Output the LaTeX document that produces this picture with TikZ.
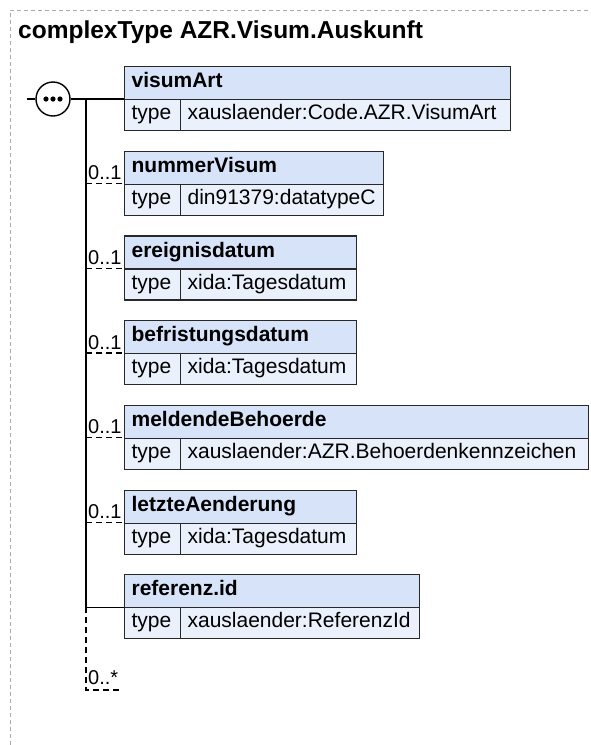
\documentclass[tikz,border=0pt]{standalone}
\usepackage{fontspec}
\setmainfont{Liberation Sans}
\definecolor{hdrfill}{RGB}{214,227,248}
\definecolor{rowfill}{RGB}{234,241,252}
\definecolor{bord}{RGB}{40,40,40}
\definecolor{frame}{RGB}{170,170,170}
\tikzset{
 cell/.style={draw=bord, line width=1.2pt, anchor=north west, inner xsep=7pt, inner ysep=0pt, text height=14pt, text depth=5pt, align=left},
 hdr/.style={cell, fill=hdrfill, minimum height=33pt, font=\fontsize{21}{24}\selectfont\bfseries},
 row/.style={cell, fill=rowfill, minimum height=31pt, font=\fontsize{21}{24}\selectfont},
 conn/.style={line width=1.3pt, draw=black},
 opt/.style={conn, dash pattern=on 6pt off 4pt},
 card/.style={anchor=base west, inner sep=0pt, font=\fontsize{20}{24}\selectfont},
}
\newcommand\xelem[5]{%
 \pgfmathsetmacro\xw{#3-124-14}%
 \pgfmathsetmacro\xv{#3-180-14}%
 \pgfmathsetmacro\xd{#2+33}%
 \node[hdr, text width=\xw pt] (#1h) at (124,#2) {#4};
 \node[row, text width=42pt] (#1t) at (124,\xd) {type};
 \node[row, text width=\xv pt] (#1v) at (180,\xd) {#5};
 \coordinate (#1s) at (86,\xd);
}
\newcommand\xcard[2]{%
 \node[card] (#1c) at ([xshift=2pt,yshift=4pt]#1s) {#2};
}
\begin{document}
\begin{tikzpicture}[x=1pt,y=-1pt]
\useasboundingbox (0,0) rectangle (590,745);
\draw[frame, line width=1pt, dash pattern=on 4pt off 3pt] (10,745) -- (10,10) -- (590,10);
\node[anchor=base west, inner sep=0pt, font=\fontsize{24.5}{28}\selectfont\bfseries] (title) at (18,38) {complexType AZR.Visum.Auskunft};

\xelem{a}{66}{510}{visumArt}{xauslaender:Code.AZR.VisumArt}
\xelem{b}{150.7}{383}{nummerVisum}{din91379:datatypeC}
\xelem{c}{235.4}{356}{ereignisdatum}{xida:Tagesdatum}
\xelem{d}{320.1}{356}{befristungsdatum}{xida:Tagesdatum}
\xelem{e}{404.8}{588}{meldendeBehoerde}{xauslaender:AZR.Behoerdenkennzeichen}
\xelem{f}{489.5}{356}{letzteAenderung}{xida:Tagesdatum}
\xelem{g}{574.2}{419}{referenz.id}{xauslaender:ReferenzId}

% sequence compositor
\node[circle, draw=black, fill=white, line width=1.4pt, minimum size=34pt, inner sep=0pt] (seq) at (53,99) {};
\foreach \dx in {-7,0,7}{\fill (53+\dx,99) circle (2.6pt);}
\coordinate (in) at (27,99);
\draw[conn] (in) -- (seq.west);
\draw[conn] (seq.east) -- (at.north west);
\draw[conn] (as) -- (gs);
\coordinate (bot) at (86,690);
\coordinate (botend) at (120,690);
\draw[opt] (gs) -- (bot) -- (botend);
\node[card] (mc) at (88,684) {0..*};

% connectors to elements
\draw[opt] (bs) -- (bt.north west);
\draw[opt] (cs) -- (ct.north west);
\draw[opt] (ds) -- (dt.north west);
\draw[opt] (es) -- (et.north west);
\draw[opt] (fs) -- (ft.north west);
\draw[conn] (gs) -- (gt.north west);
\xcard{b}{0..1}
\xcard{c}{0..1}
\xcard{d}{0..1}
\xcard{e}{0..1}
\xcard{f}{0..1}
\end{tikzpicture}
\end{document}
